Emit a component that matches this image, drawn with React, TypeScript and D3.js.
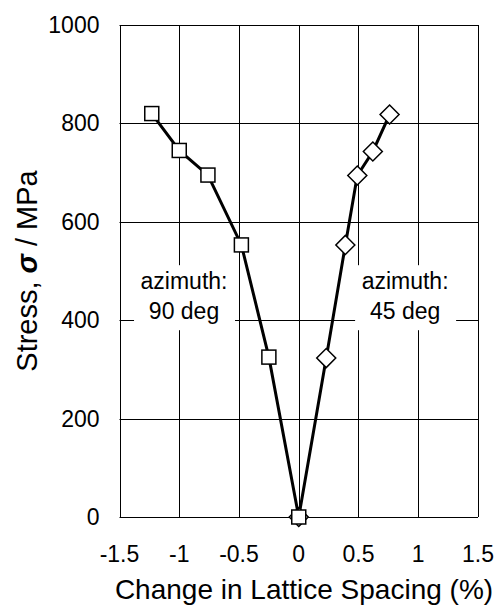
import { useEffect, useRef } from 'react';
import * as d3 from 'd3';

// azimuth 90 deg (squares)
const strain90 = [-1.23, -1.0, -0.76, -0.48, -0.25, 0];
const stress90 = [820, 745, 695, 553, 325, 0];

// azimuth 45 deg (diamonds)
const strain45 = [0, 0.23, 0.39, 0.49, 0.62, 0.76];
const stress45 = [0, 323, 553, 694, 743, 818];

const xTicks = [-1.5, -1, -0.5, 0, 0.5, 1, 1.5];
const yTicks = [0, 200, 400, 600, 800, 1000];

const labels = [
  { x: -0.96, y: 400, lines: ['azimuth:', '90 deg'] },
  { x: 0.89, y: 400, lines: ['azimuth:', '45 deg'] }
];

const FONT = '"Liberation Sans", Arial, sans-serif';

const App = () => {
  const svgRef = useRef<SVGSVGElement>(null);

  useEffect(() => {
    const svg = d3.select(svgRef.current);
    svg.selectAll('*').remove();

    const width = 496;
    const height = 606;
    const margin = { top: 25, right: 18, bottom: 89, left: 119.5 };

    svg.attr('width', width).attr('height', height);

    const x = d3.scaleLinear()
      .domain([-1.5, 1.5])
      .range([margin.left, width - margin.right]);

    const y = d3.scaleLinear()
      .domain([0, 1000])
      .range([height - margin.bottom, margin.top]);

    const px = (v: number) => Math.round(v) + 0.5;

    // Gridlines
    svg.append('g')
      .selectAll('line')
      .data(xTicks)
      .enter()
      .append('line')
      .attr('x1', d => px(x(d)))
      .attr('x2', d => px(x(d)))
      .attr('y1', y(0))
      .attr('y2', y(1000))
      .attr('stroke', '#000')
      .attr('stroke-width', 1);

    svg.append('g')
      .selectAll('line')
      .data(yTicks)
      .enter()
      .append('line')
      .attr('x1', x(-1.5))
      .attr('x2', x(1.5))
      .attr('y1', d => px(y(d)))
      .attr('y2', d => px(y(d)))
      .attr('stroke', '#000')
      .attr('stroke-width', 1);

    // Label boxes (white, hide gridlines)
    labels.forEach(l => {
      const cx = x(l.x);
      const cy = y(l.y);
      svg.append('rect')
        .attr('x', cx - 50)
        .attr('y', cy - 55)
        .attr('width', 101)
        .attr('height', 65)
        .attr('fill', '#fff');
      l.lines.forEach((t, i) => {
        svg.append('text')
          .attr('x', cx)
          .attr('y', cy - 31 + i * 30)
          .attr('text-anchor', 'middle')
          .attr('font-family', FONT)
          .attr('font-size', 23)
          .attr('fill', '#000')
          .text(t);
      });
    });

    // Tick labels
    svg.append('g')
      .selectAll('text')
      .data(yTicks)
      .enter()
      .append('text')
      .attr('x', x(-1.5) - 20)
      .attr('y', d => y(d) + 8)
      .attr('text-anchor', 'end')
      .attr('font-family', FONT)
      .attr('font-size', 23)
      .text(d => d);

    svg.append('g')
      .selectAll('text')
      .data(xTicks)
      .enter()
      .append('text')
      .attr('x', d => x(d))
      .attr('y', y(0) + 45)
      .attr('text-anchor', 'middle')
      .attr('font-family', FONT)
      .attr('font-size', 23)
      .text(d => d);

    // Axis titles
    svg.append('text')
      .attr('x', 304)
      .attr('y', 599)
      .attr('text-anchor', 'middle')
      .attr('font-family', FONT)
      .attr('font-size', 28)
      .text('Change in Lattice Spacing (%)');

    const yt = svg.append('text')
      .attr('transform', `translate(37,${(y(0) + y(1000)) / 2}) rotate(-90)`)
      .attr('text-anchor', 'middle')
      .attr('font-family', FONT)
      .attr('font-size', 29);
    yt.append('tspan').text('Stress, ');
    yt.append('tspan').attr('font-weight', 'bold').attr('font-style', 'italic').text('σ');
    yt.append('tspan').text(' / MPa');

    const line = d3.line<[number, number]>()
      .x(d => x(d[0]))
      .y(d => y(d[1]));

    // 45 deg series: diamonds
    const pts45 = strain45.map((s, i) => [s, stress45[i]] as [number, number]);
    svg.append('path')
      .datum(pts45)
      .attr('d', line)
      .attr('fill', 'none')
      .attr('stroke', '#000')
      .attr('stroke-width', 3);
    svg.append('g')
      .selectAll('path')
      .data(pts45)
      .enter()
      .append('path')
      .attr('d', d3.symbol().type(d3.symbolDiamond2).size(230)())
      .attr('transform', d => `translate(${x(d[0])},${y(d[1])})`)
      .attr('fill', '#fff')
      .attr('stroke', '#000')
      .attr('stroke-width', 1.5);

    // 90 deg series: squares
    const pts90 = strain90.map((s, i) => [s, stress90[i]] as [number, number]);
    svg.append('path')
      .datum(pts90)
      .attr('d', line)
      .attr('fill', 'none')
      .attr('stroke', '#000')
      .attr('stroke-width', 3);
    svg.append('g')
      .selectAll('rect')
      .data(pts90)
      .enter()
      .append('rect')
      .attr('x', d => x(d[0]) - 7)
      .attr('y', d => y(d[1]) - 7)
      .attr('width', 14)
      .attr('height', 14)
      .attr('fill', '#fff')
      .attr('stroke', '#000')
      .attr('stroke-width', 1.5);
  }, []);

  return (
    <div style={{ position: 'absolute', left: 0, top: 0 }}>
      <svg ref={svgRef}></svg>
    </div>
  );
};

export default App;
